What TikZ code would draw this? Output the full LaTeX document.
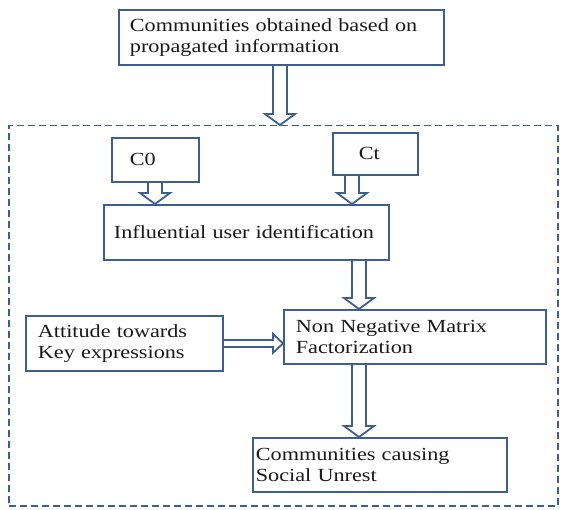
\documentclass[tikz,border=0pt]{standalone}
\usepackage{fontspec}
\setmainfont[FakeStretch=1.2]{Liberation Serif}
\usetikzlibrary{calc}

\definecolor{boxBlue}{RGB}{62,94,142}

\tikzset{
	box/.style = {draw=boxBlue, line width=1.8pt, anchor=north west, align=left, inner ysep=0pt, text=black!90, font=\fontsize{18.5}{21}\selectfont},
	arrowLine/.style = {draw=boxBlue, line width=1.8pt, line join=miter},
	frame/.style = {draw=boxBlue, line width=1.5pt, dash pattern=on 7pt off 4pt, anchor=north west}
}

\newcommand{\downArrow}[3]{%
	\draw [arrowLine] let \p1 = (#2), \p2 = (#3) in
		(#1pt-7pt, \y1) -- (#1pt-7pt, \y2+11pt) -- (#1pt-15pt, \y2+11pt) -- (#1pt, \y2)
		-- (#1pt+15pt, \y2+11pt) -- (#1pt+7pt, \y2+11pt) -- (#1pt+7pt, \y1);
}
\newcommand{\rightArrow}[2]{%
	\draw [arrowLine] let \p1 = (#1), \p2 = (#2) in
		(\x1, \y1+3.5pt) -- (\x2-10pt, \y1+3.5pt) -- (\x2-10pt, \y1+9.5pt) -- (\x2, \y1)
		-- (\x2-10pt, \y1-9.5pt) -- (\x2-10pt, \y1-3.5pt) -- (\x1, \y1-3.5pt);
}

\begin{document}
\begin{tikzpicture}[x=1pt, y=-1pt]
	\useasboundingbox (0,0) rectangle (564,510);
	\node [frame, minimum width=549pt, minimum height=380pt] (frame) at (8,125) {};

	\node [box, text width=303pt, inner xsep=11pt, minimum height=55pt] (source) at (118,9) {Communities obtained based on\\propagated information};
	\node [box, text width=51pt, inner xsep=18pt, minimum height=44pt] (c0) at (111,137) {C0};
	\node [box, text width=33pt, inner xsep=26pt, minimum height=42pt] (ct) at (332,132) {Ct};
	\node [box, text width=265pt, inner xsep=10pt, minimum height=55pt] (infl) at (103,204) {Influential user identification};
	\node [box, text width=173pt, inner xsep=12pt, minimum height=55pt] (att) at (25,315) {Attitude towards\\Key expressions};
	\node [box, text width=238pt, inner xsep=12pt, minimum height=54pt] (nnmf) at (283,309) {Non Negative Matrix\\Factorization};
	\node [box, text width=248pt, inner xsep=3pt, minimum height=54pt] (comm) at (252,437) {Communities causing\\Social Unrest};

	\foreach \pos/\from/\to in {280/source/frame, 155/c0/infl, 352/ct/infl, 359/infl/nnmf, 359/nnmf/comm} {
		\downArrow{\pos}{\from.south}{\to.north}
	}
	\rightArrow{att.east}{nnmf.west}
\end{tikzpicture}
\end{document}
